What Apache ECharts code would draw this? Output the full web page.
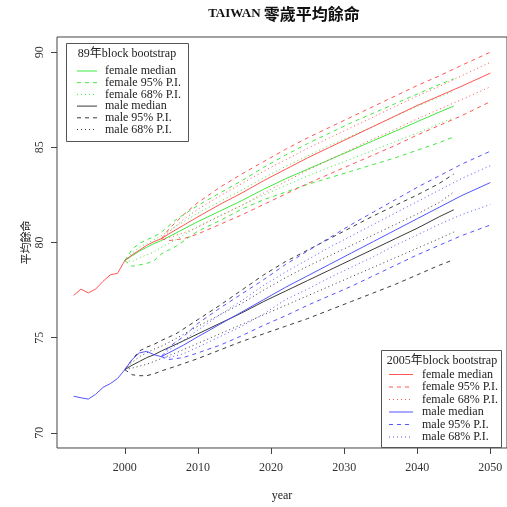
<!DOCTYPE html>
<html><head><meta charset="utf-8">
<script src="https://cdn.jsdelivr.net/npm/echarts@6/dist/echarts.min.js"></script>
<style>html,body{margin:0;padding:0;background:#fff}#c{width:507px;height:507px}</style>
</head><body><div id="c"></div>
<script>
// ---------- data ----------
const xTicks = [2000, 2010, 2020, 2030, 2040, 2050];
const yTicks = [70, 75, 80, 85, 90];

const histYears = [1993,1994,1995,1996,1997,1998,1999,2000,2001,2002,2003,2004,2005];
const histFemale = [77.22,77.55,77.35,77.55,77.95,78.3,78.38,79.05,79.35,79.6,79.85,80.05,80.2];
const histMale = [71.92,71.84,71.77,72.02,72.38,72.58,72.85,73.32,73.85,74.2,74.28,74.1,74.0];

// 89年 block bootstrap (starts 2000)
const years89 = [2000,2001,2002,2003,2004,2005,2007,2010,2013,2016,2019,2022,2025,2028,2031,2034,2037,2040,2043,2045];
const f89Med = [79.05,79.3,79.55,79.75,79.95,80.1,80.5,81.1,81.65,82.2,82.8,83.35,83.85,84.35,84.85,85.35,85.85,86.35,86.85,87.17];
const f89U95 = [79.05,79.65,79.95,80.15,80.3,80.55,81.2,81.95,82.6,83.25,83.95,84.6,85.2,85.75,86.3,86.8,87.3,87.8,88.3,88.6];
const f89U68 = [79.05,79.45,79.75,79.95,80.15,80.35,80.85,81.55,82.15,82.75,83.4,84.0,84.55,85.1,85.6,86.1,86.65,87.15,87.65,87.95];
const f89L68 = [79.05,79.0,79.2,79.35,79.5,79.75,80.15,80.85,81.4,81.95,82.5,83.0,83.5,83.95,84.4,84.85,85.3,85.75,86.25,86.55];
const f89L95 = [79.05,78.75,78.82,78.9,79.05,79.4,79.8,80.6,81.15,81.75,82.25,82.65,83.05,83.4,83.75,84.1,84.45,84.85,85.25,85.55];
const m89Med = [73.32,73.55,73.75,73.95,74.1,74.3,74.65,75.2,75.75,76.3,76.9,77.45,78.0,78.55,79.1,79.65,80.2,80.75,81.35,81.72];
const m89U95 = [73.32,73.85,74.3,74.5,74.65,74.85,75.2,75.95,76.7,77.5,78.3,79.0,79.6,80.2,80.8,81.4,81.95,82.5,83.1,83.6];
const m89U68 = [73.32,73.7,74.0,74.2,74.4,74.55,74.95,75.6,76.2,76.8,77.5,78.15,78.75,79.3,79.85,80.4,80.95,81.5,82.1,82.65];
const m89L68 = [73.32,73.4,73.5,73.6,73.75,73.9,74.2,74.7,75.2,75.7,76.2,76.7,77.2,77.7,78.2,78.7,79.2,79.7,80.2,80.55];
const m89L95 = [73.32,73.05,73.0,73.0,73.1,73.25,73.5,73.9,74.35,74.8,75.2,75.6,76.0,76.45,76.9,77.35,77.8,78.3,78.8,79.1];

// 2005年 block bootstrap (starts 2005)
const years05 = [2005,2006,2008,2010,2013,2016,2019,2022,2025,2028,2031,2034,2037,2040,2043,2046,2050];
const f05Med = [80.2,80.45,80.9,81.35,82.0,82.6,83.25,83.85,84.45,85.0,85.55,86.1,86.65,87.2,87.7,88.2,88.9];
const f05U95 = [80.2,80.7,81.45,82.1,82.9,83.6,84.25,84.9,85.5,86.05,86.6,87.15,87.7,88.25,88.75,89.3,90.0];
const f05U68 = [80.2,80.55,81.2,81.75,82.45,83.1,83.75,84.35,84.95,85.5,86.05,86.6,87.15,87.7,88.2,88.75,89.47];
const f05L68 = [80.2,80.25,80.5,80.8,81.4,81.95,82.6,83.2,83.8,84.35,84.9,85.45,85.95,86.5,87.0,87.5,88.18];
const f05L95 = [80.2,80.1,80.2,80.45,80.95,81.45,82.0,82.55,83.1,83.6,84.1,84.6,85.1,85.65,86.15,86.65,87.4];
const m05Med = [74.0,74.2,74.6,75.05,75.7,76.35,77.0,77.65,78.25,78.85,79.45,80.05,80.65,81.25,81.85,82.45,83.15];
const m05U95 = [74.0,74.5,75.05,75.75,76.55,77.3,78.05,78.85,79.55,80.25,80.95,81.6,82.25,82.9,83.5,84.1,84.8];
const m05U68 = [74.0,74.35,74.85,75.4,76.2,76.95,77.75,78.45,79.1,79.75,80.35,80.95,81.55,82.15,82.75,83.35,84.04];
const m05L68 = [74.0,73.95,74.15,74.5,75.05,75.6,76.25,77.0,77.55,78.15,78.7,79.25,79.85,80.4,80.95,81.45,82.0];
const m05L95 = [74.0,73.85,73.95,74.2,74.6,75.1,75.65,76.15,76.7,77.2,77.7,78.25,78.8,79.35,79.85,80.35,80.92];

const legend89 = ['female median','female 95% P.I.','female 68% P.I.','male median','male 95% P.I.','male 68% P.I.'];
const legend05 = ['female median','female 95% P.I.','female 68% P.I.','male median','male 95% P.I.','male 68% P.I.'];

// ---------- style ----------
const RED = '#ff5555', GREEN = '#3fe83f', BLUE = '#5555ff', BLACK = '#3a3a3a';
const SOLID = 'solid', DASH = [4, 4], DOT = [1, 3];
const SERIF = '"Liberation Serif","DejaVu Serif","Noto Sans CJK TC",serif';

function pairs(xs, ys) { return xs.map((x, i) => [x, ys[i]]); }
function line(xs, ys, color, type) {
  return {
    type: 'line', data: pairs(xs, ys), showSymbol: false, silent: true,
    lineStyle: { color: color, width: 1, type: type }, animation: false, z: 3
  };
}

const series = [
  line(years89, f89U95, GREEN, DASH), line(years89, f89L95, GREEN, DASH),
  line(years89, f89U68, GREEN, DOT), line(years89, f89L68, GREEN, DOT),
  line(years89, f89Med, GREEN, SOLID),
  line(years89, m89U95, BLACK, DASH), line(years89, m89L95, BLACK, DASH),
  line(years89, m89U68, BLACK, DOT), line(years89, m89L68, BLACK, DOT),
  line(years89, m89Med, BLACK, SOLID),
  line(years05, f05U95, RED, DASH), line(years05, f05L95, RED, DASH),
  line(years05, f05U68, RED, DOT), line(years05, f05L68, RED, DOT),
  line(years05, f05Med, RED, SOLID),
  line(years05, m05U95, BLUE, DASH), line(years05, m05L95, BLUE, DASH),
  line(years05, m05U68, BLUE, DOT), line(years05, m05L68, BLUE, DOT),
  line(years05, m05Med, BLUE, SOLID),
  line(histYears, histFemale, RED, SOLID),
  line(histYears, histMale, BLUE, SOLID)
];

// ---------- legends ----------
const styles89 = [[GREEN, SOLID],[GREEN, DASH],[GREEN, DOT],[BLACK, SOLID],[BLACK, DASH],[BLACK, DOT]];
const styles05 = [[RED, SOLID],[RED, DASH],[RED, DOT],[BLUE, SOLID],[BLUE, DASH],[BLUE, DOT]];

function legendBox(box, title, titleX, titleY, labels, styles, rowY0, rowStep, lx1, lx2, tx) {
  const els = [];
  els.push({ type: 'rect', shape: box, style: { fill: '#fff', stroke: '#555', lineWidth: 1 }, z: 10 });
  els.push({ type: 'text', x: titleX, y: titleY, style: { text: title, font: '12px ' + SERIF, fill: '#222', align: 'center', verticalAlign: 'middle' }, z: 11 });
  labels.forEach((lab, i) => {
    const y = rowY0 + i * rowStep;
    const st = styles[i];
    els.push({ type: 'line', shape: { x1: lx1, y1: y, x2: lx2, y2: y },
      style: { stroke: st[0], lineWidth: 1, lineDash: st[1] === SOLID ? null : st[1] }, z: 11 });
    els.push({ type: 'text', x: tx, y: y, style: { text: lab, font: '12px ' + SERIF, fill: '#222', align: 'left', verticalAlign: 'middle' }, z: 11 });
  });
  return els;
}

const graphics = []
  .concat(legendBox({ x: 66.5, y: 43.5, width: 122, height: 98 }, '89年block bootstrap', 127, 54,
    legend89, styles89, 71, 11.7, 77, 97, 105))
  .concat(legendBox({ x: 381.5, y: 350.5, width: 120, height: 97 }, '2005年block bootstrap', 442, 361,
    legend05, styles05, 374.5, 12.5, 389, 413, 422))
  .concat([{
    type: 'text', x: 284, y: 14, z: 11,
    style: { text: '{a|TAIWAN }{b|零歲平均餘命}', align: 'center', verticalAlign: 'middle',
      rich: { a: { font: 'bold 13px ' + SERIF, fill: '#111' }, b: { font: 'bold 16px "Noto Sans CJK TC",sans-serif', fill: '#111' } } }
  }]);

const chart = echarts.init(document.getElementById('c'), null, { renderer: 'canvas' });
chart.setOption({
  animation: false,
  backgroundColor: '#fff',
  grid: { left: 57, top: 37, width: 452, height: 415, show: true, borderColor: '#444', borderWidth: 1, backgroundColor: 'transparent' },
  xAxis: {
    type: 'value', min: 1990.72, max: 2052.28,
    name: 'year', nameLocation: 'middle', nameGap: 42, nameMoveOverlap: false,
    nameTextStyle: { fontFamily: SERIF, fontSize: 12, color: '#222' },
    axisLine: { show: false },
    splitLine: { show: false },
    axisTick: { show: true, inside: false, length: 6, lineStyle: { color: '#444' }, customValues: xTicks },
    axisLabel: { show: true, margin: 14, fontFamily: SERIF, fontSize: 12, color: '#333', customValues: xTicks, formatter: v => String(v) }
  },
  yAxis: {
    type: 'value', min: 69.2, max: 90.8,
    name: '平均餘命', nameLocation: 'middle', nameGap: 26, nameRotate: 90, nameMoveOverlap: false,
    nameTextStyle: { fontFamily: '"Noto Sans CJK TC",sans-serif', fontSize: 11, color: '#222' },
    axisLine: { show: false },
    splitLine: { show: false },
    axisTick: { show: true, inside: false, length: 6, lineStyle: { color: '#444' }, customValues: yTicks },
    axisLabel: { show: true, rotate: 90, margin: 11, fontFamily: SERIF, fontSize: 12, color: '#333', customValues: yTicks, formatter: v => String(v) }
  },
  series: series,
  graphic: graphics
});
</script></body></html>
